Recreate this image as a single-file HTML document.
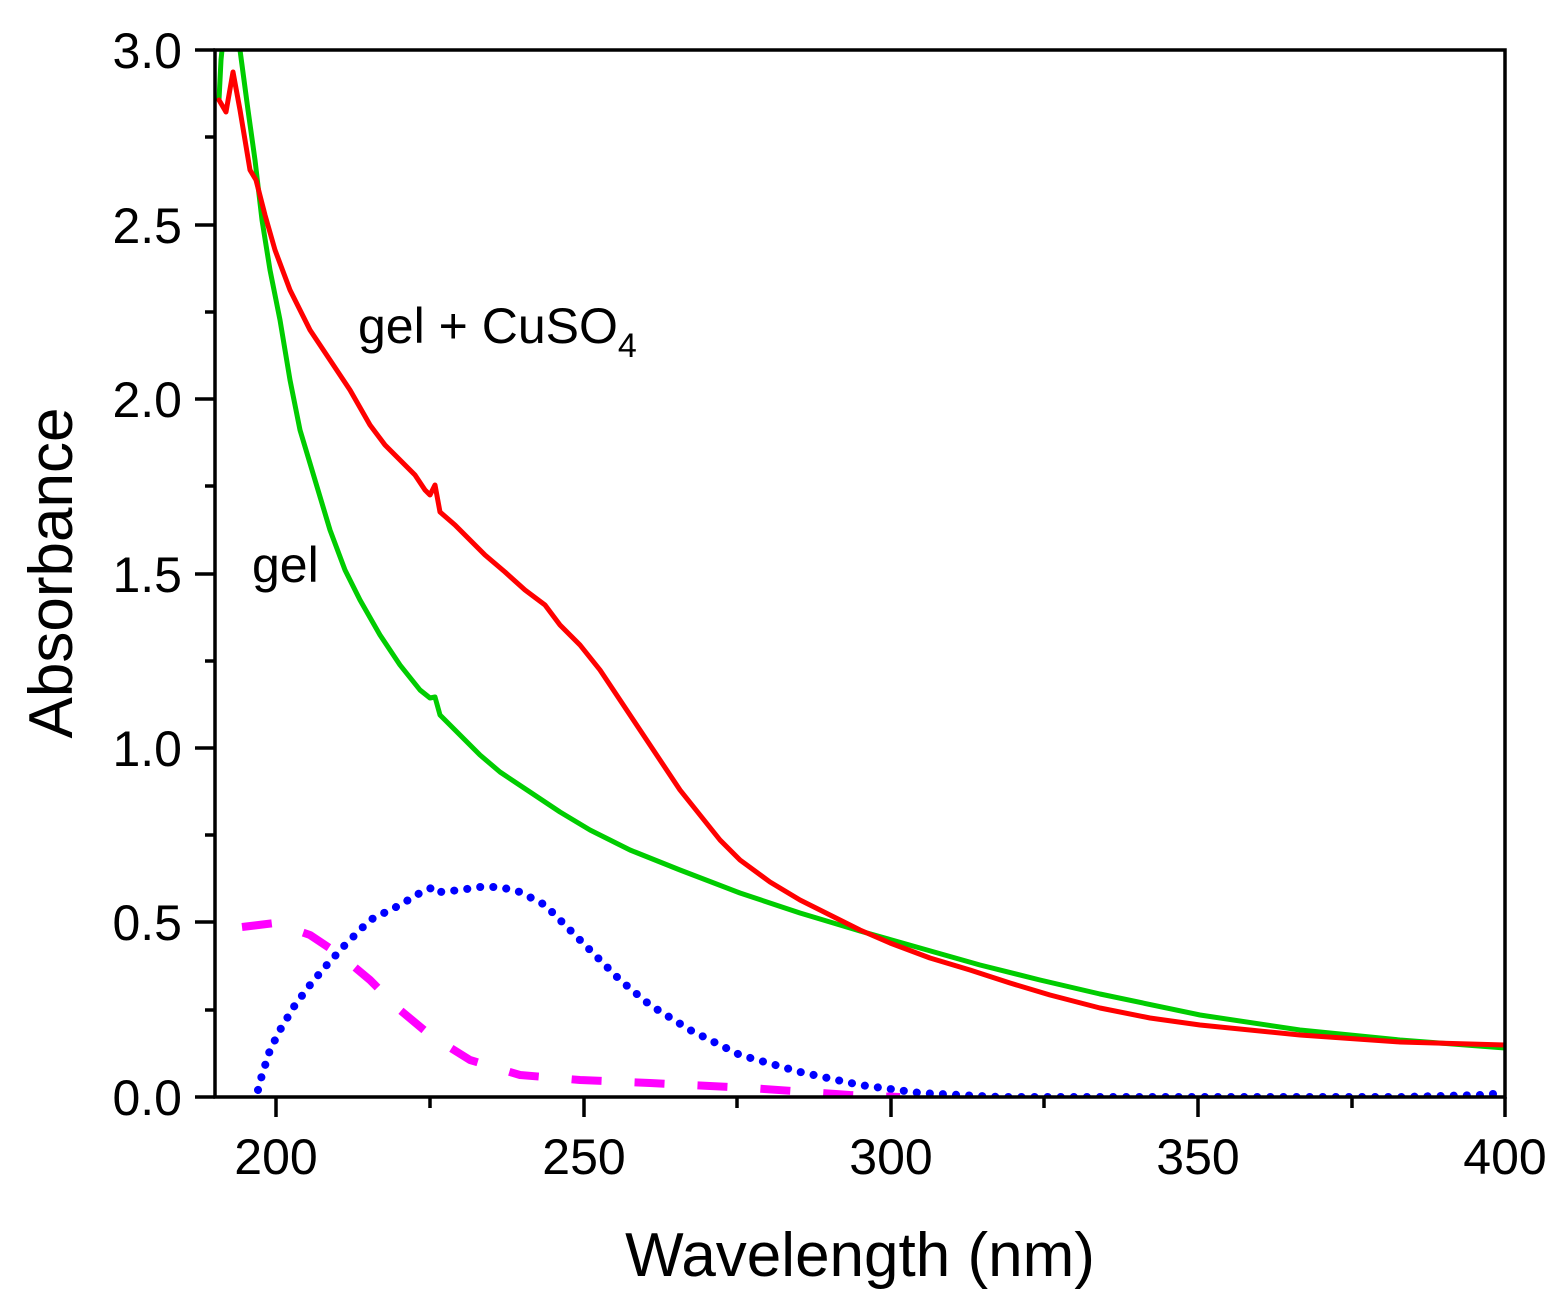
<!DOCTYPE html>
<html><head><meta charset="utf-8"><style>body{margin:0;background:#fff}svg{display:block}</style></head><body>
<svg width="1558" height="1299" viewBox="0 0 1558 1299" xmlns="http://www.w3.org/2000/svg" font-family="Liberation Sans, Arial, sans-serif">
<defs><clipPath id="c"><rect x="215" y="50" width="1290" height="1047"/></clipPath></defs>
<g clip-path="url(#c)" fill="none" stroke-linejoin="round" stroke-linecap="round">
<polyline stroke="#00cc00" stroke-width="5" points="219,100 221,60 223,40 238,40 240,50 248,110 255,160 262,220 270,270 280,320 290,380 300,430 315,480 330,530 345,570 360,600 380,635 400,665 420,690 430,698 435,697 440,715 460,735 480,755 500,772 530,792 560,812 590,830 630,850 680,870 740,893 800,913 860,931 920,948 980,965 1040,980 1100,994 1200,1015 1300,1030 1400,1040 1505,1048"/>
<polyline stroke="#ff0000" stroke-width="5" points="219,100 226,112 233,72 240,110 250,170 256,180 265,215 275,250 290,290 310,330 330,360 350,390 370,425 385,445 400,460 415,475 425,490 430,495 435,485 440,512 455,525 470,540 485,555 505,572 525,590 545,605 560,625 580,645 600,670 620,700 640,730 660,760 680,790 700,815 720,840 740,860 770,882 800,900 830,915 860,930 890,943 930,958 970,970 1010,983 1050,995 1100,1008 1150,1018 1200,1025 1300,1035 1400,1042 1505,1045"/>
<polyline stroke="#0000ff" stroke-width="8" stroke-dasharray="0.1 13" points="258,1090 262,1075 270,1050 280,1030 295,1005 310,985 325,967 345,945 370,920 400,905 425,890 435,887 440,892 460,890 480,887 500,887 520,892 545,905 565,925 590,950 620,980 650,1005 690,1030 740,1055 800,1072 860,1085 920,1093 1000,1097 1400,1097 1480,1095 1505,1093"/>
<polyline stroke="#ff00ff" stroke-width="8" stroke-dasharray="30 33" stroke-linecap="butt" points="242,927 275,923 310,935 340,955 370,980 400,1010 430,1035 470,1060 520,1075 580,1080 650,1083 750,1088 850,1095 900,1097"/>
</g>
<rect x="215" y="50" width="1290" height="1047" fill="none" stroke="#000" stroke-width="3.5"/>
<g stroke="#000" stroke-width="3.5">
<line x1="276" y1="1097" x2="276" y2="1117"/><line x1="584" y1="1097" x2="584" y2="1117"/><line x1="891" y1="1097" x2="891" y2="1117"/><line x1="1198" y1="1097" x2="1198" y2="1117"/><line x1="1505" y1="1097" x2="1505" y2="1117"/>
<line x1="430" y1="1097" x2="430" y2="1108"/><line x1="737" y1="1097" x2="737" y2="1108"/><line x1="1044" y1="1097" x2="1044" y2="1108"/><line x1="1352" y1="1097" x2="1352" y2="1108"/>
<line x1="195" y1="1097" x2="215" y2="1097"/><line x1="195" y1="922" x2="215" y2="922"/><line x1="195" y1="748" x2="215" y2="748"/><line x1="195" y1="574" x2="215" y2="574"/><line x1="195" y1="399" x2="215" y2="399"/><line x1="195" y1="225" x2="215" y2="225"/><line x1="195" y1="50" x2="215" y2="50"/>
<line x1="205" y1="1010" x2="215" y2="1010"/><line x1="205" y1="835" x2="215" y2="835"/><line x1="205" y1="661" x2="215" y2="661"/><line x1="205" y1="486" x2="215" y2="486"/><line x1="205" y1="312" x2="215" y2="312"/><line x1="205" y1="137" x2="215" y2="137"/>
</g>
<g font-size="50" fill="#000" text-anchor="end">
<text x="182" y="1115">0.0</text><text x="182" y="940">0.5</text><text x="182" y="766">1.0</text><text x="182" y="592">1.5</text><text x="182" y="417">2.0</text><text x="182" y="243">2.5</text><text x="182" y="68">3.0</text>
</g>
<g font-size="50" fill="#000" text-anchor="middle">
<text x="276" y="1174">200</text><text x="584" y="1174">250</text><text x="891" y="1174">300</text><text x="1198" y="1174">350</text><text x="1505" y="1174">400</text>
</g>
<text x="860" y="1276" font-size="62" text-anchor="middle">Wavelength (nm)</text>
<text transform="translate(72,573) rotate(-90)" font-size="62" text-anchor="middle">Absorbance</text>
<text x="358" y="343" font-size="50">gel + CuSO<tspan font-size="34" dy="14">4</tspan></text>
<text x="252" y="582" font-size="50">gel</text>
</svg>
</body></html>
